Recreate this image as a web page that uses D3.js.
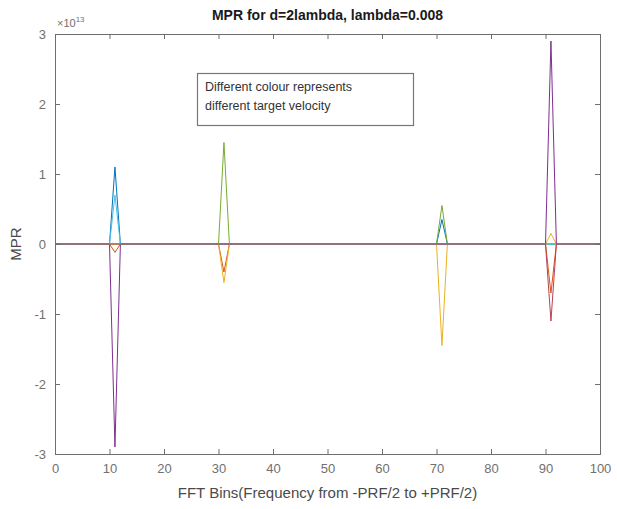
<!DOCTYPE html>
<html><head><meta charset="utf-8">
<script src="https://cdn.jsdelivr.net/npm/d3@7"></script>
<style>body{margin:0;background:#fff;font-family:"Liberation Sans",Arial,sans-serif;}</style>
</head><body>
<script>
// Data (values in units of 1e13)
const spikeBins = [11, 31, 71, 91];
const seriesNames = ["s1","s2","s3","s4","s5","s6","s7"];
const seriesColors = ["#0072BD","#D95319","#EDB120","#7E2F8E","#77AC30","#4DBEEE","#B8404F"];
// peak value of each series at each spike bin (0 = flat)
const peaks1 = [1.10, 0, 0.35, 0];
const peaks2 = [-0.12, -0.40, 0, -0.70];
const peaks3 = [0, -0.55, -1.45, 0.15];
const peaks4 = [-2.90, 0, 0, 2.90];
const peaks5 = [0, 1.45, 0.55, 0];
const peaks6 = [0.70, 0, 0, 0];
const peaks7 = [0, 0, 0, -1.10];
const allPeaks = [peaks1, peaks2, peaks3, peaks4, peaks5, peaks6, peaks7];
const xTicks = [0,10,20,30,40,50,60,70,80,90,100];
const yTicks = [-3,-2,-1,0,1,2,3];
const titleText = "MPR for d=2lambda, lambda=0.008";
const xLabel = "FFT Bins(Frequency from -PRF/2 to +PRF/2)";
const yLabel = "MPR";
const noteLines = ["Different colour represents", "different target velocity"];

const W = 617, H = 509;
const m = {l:55, r:17, t:34, b:55};
const svg = d3.select("body").append("svg").attr("width", W).attr("height", H);
const x = d3.scaleLinear().domain([0,100]).range([m.l, W-m.r]);
const y = d3.scaleLinear().domain([-3,3]).range([H-m.b, m.t]);
const axisCol = "#6e6e6e";

const bins = d3.range(0, 101);
const seriesData = allPeaks.map(pk => bins.map(b => {
  const i = spikeBins.indexOf(b);
  return {b, v: i >= 0 ? pk[i] : 0};
}));

const line = d3.line().x(d => x(d.b)).y(d => y(d.v));
const g = svg.append("g");
seriesData.forEach((s, i) => {
  g.append("path").datum(s).attr("d", line).attr("fill","none")
   .attr("stroke", seriesColors[i]).attr("stroke-width", 1);
});

// axes
const fs = "13px";
const axB = svg.append("g").attr("transform",`translate(0,${H-m.b})`)
  .call(d3.axisBottom(x).tickValues(xTicks).tickSize(-5).tickPadding(10));
const axT = svg.append("g").attr("transform",`translate(0,${m.t})`)
  .call(d3.axisTop(x).tickValues(xTicks).tickSize(-5).tickFormat(""));
const axL = svg.append("g").attr("transform",`translate(${m.l},0)`)
  .call(d3.axisLeft(y).tickValues(yTicks).tickSize(-5).tickPadding(9).tickFormat(d => String(d)));
const axR = svg.append("g").attr("transform",`translate(${W-m.r},0)`)
  .call(d3.axisRight(y).tickValues(yTicks).tickSize(-5).tickFormat(""));
[axB, axT, axL, axR].forEach(a => {
  a.selectAll("path,line").attr("stroke", axisCol);
  a.selectAll("text").attr("fill", "#707070").style("font-size", fs)
   .style("font-family", '"Liberation Sans",Arial,sans-serif');
});

// exponent
const ex = svg.append("text").attr("x", m.l+2).attr("y", 27).attr("fill","#707070")
  .style("font-size","11px");
ex.append("tspan").text("\u00d710");
ex.append("tspan").attr("dy",-5).style("font-size","8px").text("13");

// title
svg.append("text").attr("x", (m.l + W - m.r)/2).attr("y", 20).attr("text-anchor","middle")
  .style("font-size","14px").style("font-weight","bold").attr("fill","#1a1a1a").text(titleText);
// x label
svg.append("text").attr("x", (m.l + W - m.r)/2).attr("y", 498).attr("text-anchor","middle")
  .style("font-size","15px").attr("fill","#4a4a4a").text(xLabel);
// y label
svg.append("text").attr("transform",`translate(21,${y(0)}) rotate(-90)`).attr("text-anchor","middle")
  .style("font-size","15px").attr("fill","#4a4a4a").text(yLabel);

// note box
svg.append("rect").attr("x",197.5).attr("y",73.5).attr("width",216).attr("height",52)
  .attr("fill","#fff").attr("stroke","#777").attr("stroke-width",1.2);
noteLines.forEach((t,i) => {
  svg.append("text").attr("x",205).attr("y",91 + i*19).style("font-size","12.5px")
    .attr("fill","#333").text(t);
});
</script>
</body></html>
